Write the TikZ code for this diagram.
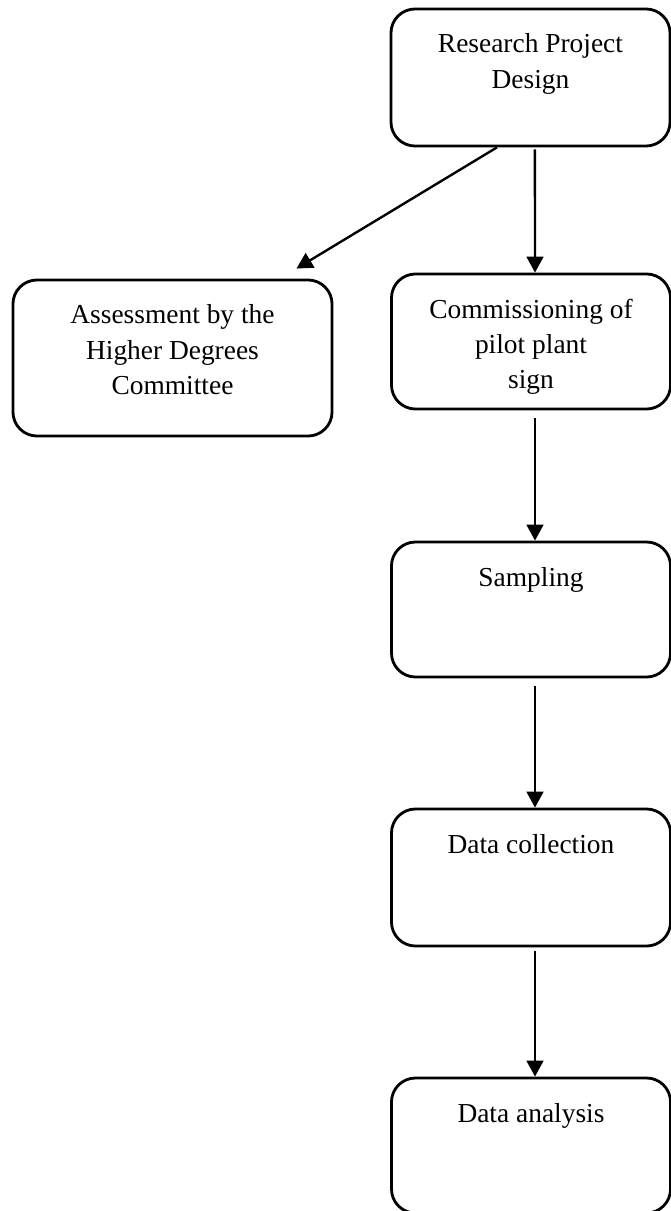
\documentclass[tikz,border=0pt]{standalone}
\usepackage{fontspec}
\setmainfont{Liberation Serif}
\usetikzlibrary{arrows.meta, positioning}

\begin{document}
\begin{tikzpicture}[
    x=0.025cm, y=-0.025cm,
    % Define box styles
    stage/.style={
        rectangle,
        rounded corners=0.6cm,
        draw=black,
        line width=2pt,
        minimum width=6.975cm,
        inner ysep=0pt,
        text height=1.1cm,
        font=\fontsize{19.5}{25}\selectfont
    },
    flow/.style={
        line width=1.7pt,
        -{Triangle[length=0.4cm, width=0.42cm]}
    }
]
    \clip (0, 0) rectangle (671, 1211);

    % =================================================================
    % --- Stages ---
    % =================================================================
    \node[stage, text depth=2.325cm] (design) at (530.5, 77.5) {\begin{tabular}[t]{c}Research Project\\Design\end{tabular}};
    \node[stage, text depth=2.8cm, minimum width=7.975cm] (assess) at (172.5, 358) {\begin{tabular}[t]{c}Assessment by the\\Higher Degrees\\Committee\end{tabular}};
    \node[stage, text depth=2.275cm] (commission) at (531, 341.5) {\begin{tabular}[t]{c}Commissioning of\\pilot plant\\sign\end{tabular}};
    \node[stage, text depth=2.275cm] (sampling) at (531, 609.5) {\begin{tabular}[t]{c}Sampling\end{tabular}};
    \node[stage, text depth=2.325cm] (collection) at (531, 877.5) {\begin{tabular}[t]{c}Data collection\end{tabular}};
    \node[stage, text depth=2.275cm] (analysis) at (531, 1145.5) {\begin{tabular}[t]{c}Data analysis\end{tabular}};

    % Arrows between stages
    \draw[flow] ([xshift=-0.84cm]design.south) -- ([xshift=-0.925cm, yshift=0.25cm]assess.north east);
    \draw[flow] ([xshift=0.11cm, yshift=-0.05cm]design.south) -- ([xshift=0.1cm]commission.north);
    \draw[flow] ([xshift=0.1cm, yshift=-0.2cm]commission.south) -- ([xshift=0.1cm]sampling.north);
    \draw[flow] ([xshift=0.1cm, yshift=-0.18cm]sampling.south) -- ([xshift=0.1cm]collection.north);
    \draw[flow] ([xshift=0.1cm, yshift=-0.1cm]collection.south) -- ([xshift=0.1cm]analysis.north);
\end{tikzpicture}
\end{document}
